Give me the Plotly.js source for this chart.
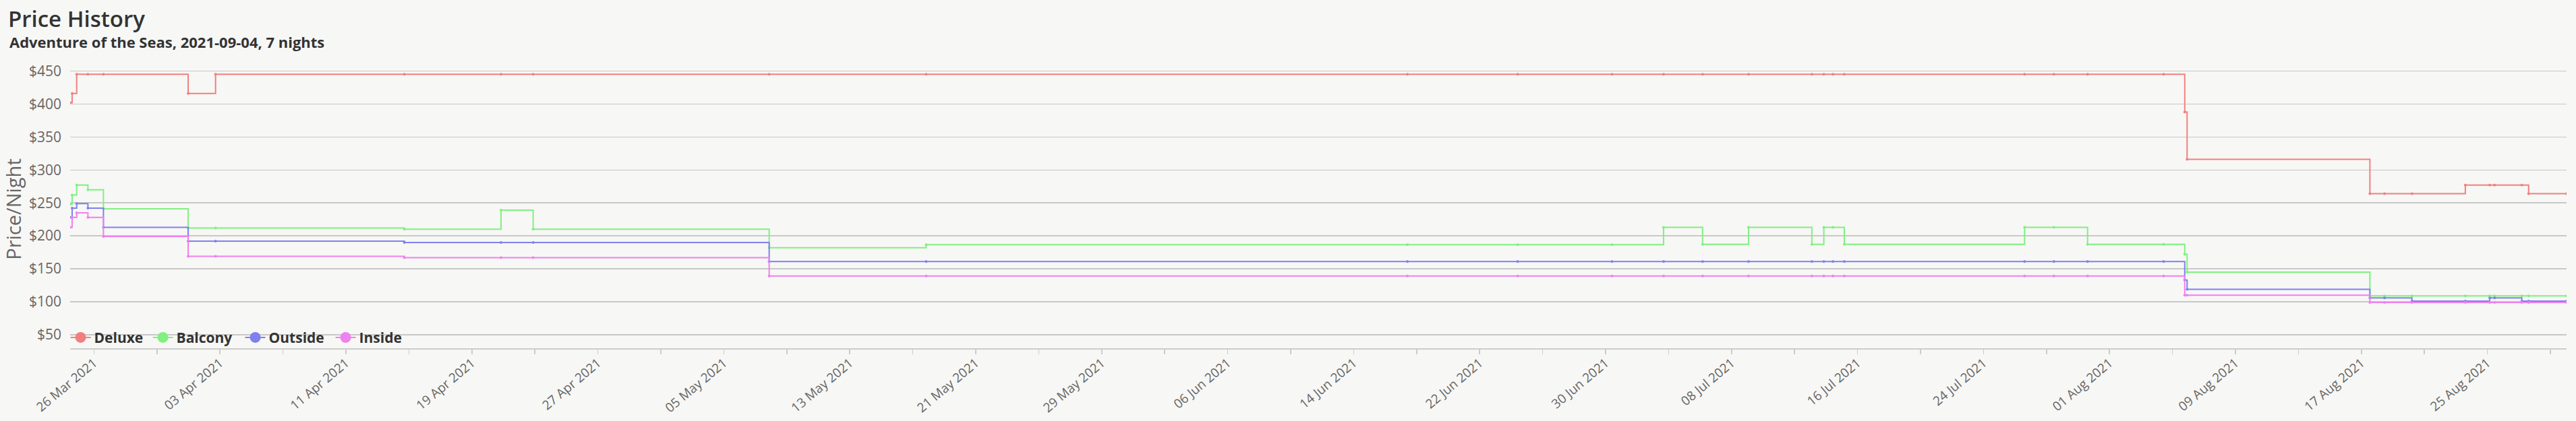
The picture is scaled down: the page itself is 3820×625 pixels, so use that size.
<!DOCTYPE html>
<html>
<head>
<meta charset="utf-8">
<script src="https://cdn.plot.ly/plotly-3.0.1.min.js"></script>
<style>
  html, body { margin: 0; padding: 0; background: #f7f7f5; }
  #chart { width: 3820px; height: 625px; }
</style>
</head>
<body>
<div id="chart"></div>
<script>
// ---- Data ----
const seriesNames = ["Deluxe", "Balcony", "Outside", "Inside"];
const seriesColors = ["#f08080", "#80f080", "#8080f0", "#f080f0"];
const legendEntryWidths = [77, 92, 89, 85];   // legend layout (px), not data

const dates = [
  "2021-03-24 11:37", "2021-03-24 14:41", "2021-03-24 21:36", "2021-03-25 14:45",
  "2021-03-26 14:23", "2021-03-31 23:31", "2021-04-02 17:17", "2021-04-14 17:04",
  "2021-04-20 20:24", "2021-04-22 21:22", "2021-05-07 21:07", "2021-05-17 20:24",
  "2021-06-17 09:50", "2021-06-24 10:00", "2021-06-30 09:50", "2021-07-03 16:20",
  "2021-07-06 03:50", "2021-07-09 01:55", "2021-07-13 02:24", "2021-07-13 20:38",
  "2021-07-14 10:33", "2021-07-15 03:50", "2021-07-26 14:38", "2021-07-28 11:17",
  "2021-07-30 14:38", "2021-08-04 10:33", "2021-08-05 18:43", "2021-08-05 22:19",
  "2021-08-17 12:58", "2021-08-18 11:17", "2021-08-20 05:02", "2021-08-23 14:24",
  "2021-08-25 03:36", "2021-08-25 11:02", "2021-08-27 04:34", "2021-08-27 14:53",
  "2021-08-30 00:43"
];

const deluxe = [
  402, 416, 445, 445, 445, 416, 445, 445, 445, 445, 445, 445,
  445, 445, 445, 445, 445, 445, 445, 445, 445, 445, 445, 445,
  445, 445, 388, 316, 264, 264, 264, 277, 277, 277, 277, 264, 264
];
const balcony = [
  248, 262, 277, 270, 241, 212, 212, 210, 239, 210, 182, 186.5,
  186.5, 186.5, 186.5, 213, 187, 213, 187, 213, 213, 187, 213, 213,
  187, 187, 172, 145, 109, 109, 109, 109, 109, 109, 109, 109, 109
];
const outside = [
  228, 242, 249, 242, 213, 192, 192, 190, 190, 190, 161, 161,
  161, 161, 161, 161, 161, 161, 161, 161, 161, 161, 161, 161,
  161, 161, 133, 119, 106, 106, 101, 101, 106, 106, 101, 101, 101
];
const inside = [
  213, 228, 235, 228, 199, 169, 169, 167, 167, 167, 139, 139,
  139, 139, 139, 139, 139, 139, 139, 139, 139, 139, 139, 139,
  139, 139, 110, 110, 99, 99, 99, 99, 99, 99, 99, 99, 99
];

const yTickValues = [50, 100, 150, 200, 250, 300, 350, 400, 450];
const yTickLabels = ["$50", "$100", "$150", "$200", "$250", "$300", "$350", "$400", "$450"];
const titleText = "Price History";
const subtitleText = "Adventure of the Seas, 2021-09-04, 7 nights";
const yTitleText = "Price/Night";

// ---- Build traces ----
const FONT = "'Open Sans', 'Noto Sans', sans-serif";
const allValues = [deluxe, balcony, outside, inside];
const traces = [];
allValues.forEach((vals, i) => {
  traces.push({
    type: "scatter",
    mode: "lines+markers",
    x: dates,
    y: vals,
    name: seriesNames[i],
    legendgroup: seriesNames[i],
    showlegend: false,
    line: { shape: "hv", color: seriesColors[i], width: 2 },
    marker: { color: seriesColors[i], size: 4, symbol: "circle" },
    hoverinfo: "skip"
  });
});
// legend entries (no data, legend symbol only)
allValues.forEach((vals, i) => {
  traces.push({
    type: "scatter",
    mode: "lines+markers",
    x: [null],
    y: [null],
    name: seriesNames[i],
    legendgroup: seriesNames[i],
    legendwidth: legendEntryWidths[i],
    showlegend: true,
    line: { color: seriesColors[i], width: 2 },
    marker: { color: seriesColors[i], size: 16, symbol: "circle" },
    hoverinfo: "skip"
  });
});

const DAY = 86400000;
const layout = {
  width: 3820,
  height: 625,
  paper_bgcolor: "#f7f7f5",
  plot_bgcolor: "#f7f7f5",
  margin: { l: 104, r: 14, t: 104, b: 108 },
  font: { family: FONT, color: "#666" },
  title: {
    text: titleText,
    font: { family: FONT, size: 33, color: "#333", weight: 600 },
    xref: "container", x: 12 / 3820, xanchor: "left",
    yref: "container", y: 1 - 28 / 625, yanchor: "middle"
  },
  annotations: [{
    text: subtitleText,
    xref: "paper", yref: "paper",
    x: (12 - 104) / 3702, xanchor: "left",
    y: (517 - 62) / 413, yanchor: "middle",
    showarrow: false,
    font: { family: FONT, size: 22, color: "#333", weight: 700 }
  }],
  showlegend: true,
  legend: {
    orientation: "h",
    xref: "paper",
    x: -0.0012, xanchor: "left",
    y: 0.038, yanchor: "middle",
    bgcolor: "rgba(0,0,0,0)",
    font: { family: FONT, size: 21, color: "#333", weight: 700 },
    traceorder: "normal"
  },
  xaxis: {
    type: "date",
    range: [dates[0], dates[dates.length - 1]],
    tick0: "2021-03-26",
    dtick: 8 * DAY,
    tickformat: "%d %b %Y",
    tickangle: -40,
    ticks: "outside",
    ticklen: 7,
    tickwidth: 1.5,
    tickcolor: "#ccc",
    ticklabelstandoff: -5,
    showgrid: false,
    zeroline: false,
    showline: true,
    linecolor: "#ccc",
    linewidth: 1.5,
    tickfont: { family: FONT, size: 19, color: "#666" },
    minor: {
      tick0: "2021-03-26",
      dtick: 4 * DAY,
      ticks: "outside",
      ticklen: 7,
      tickwidth: 1.5,
      tickcolor: "#ccc",
      showgrid: false
    }
  },
  yaxis: {
    range: [29.5, 451.5],
    tickmode: "array",
    tickvals: yTickValues,
    ticktext: yTickLabels,
    showgrid: true,
    gridcolor: "#c8c8c8",
    gridwidth: 1.5,
    zeroline: false,
    showline: false,
    ticks: "",
    ticklabelstandoff: 12,
    tickfont: { family: FONT, size: 21, color: "#666" },
    title: {
      text: yTitleText,
      font: { family: FONT, size: 29, color: "#666" },
      standoff: 10
    }
  },
  hovermode: false
};

Plotly.newPlot("chart", traces, layout, { displayModeBar: false, staticPlot: true });
</script>
</body>
</html>
